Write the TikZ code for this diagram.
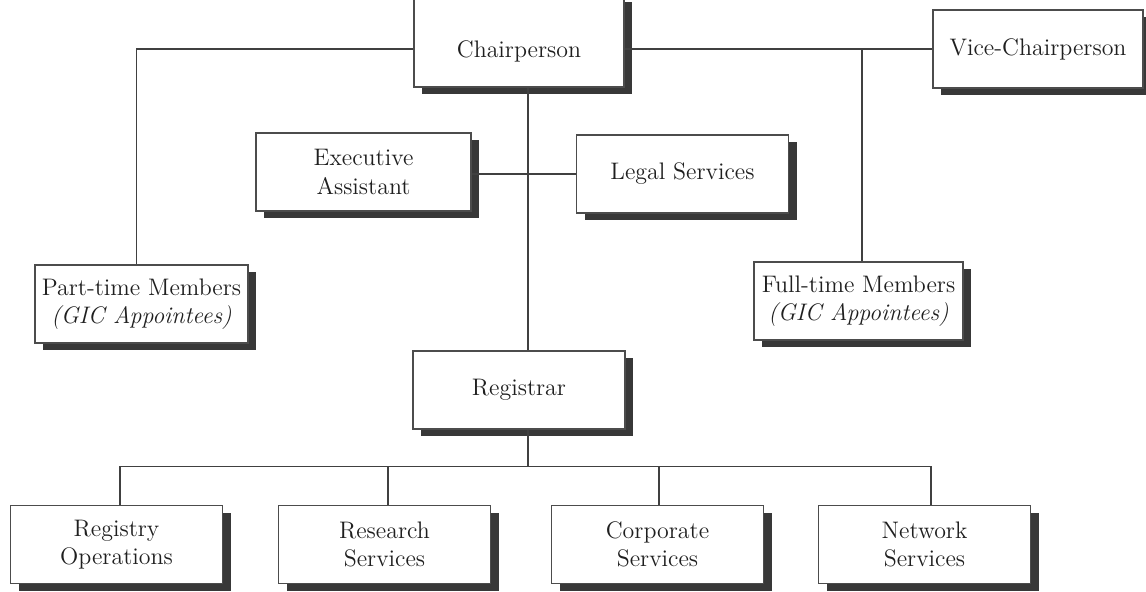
\documentclass[tikz,border=0pt]{standalone}
\usepackage{tikz}
\usetikzlibrary{shadows}
\tikzset{
  orgbox/.style ={rectangle, draw=black!70, line width=0.9pt, fill=white,
                  minimum width=4.24cm, minimum height=1.56cm, inner sep=2pt,
                  align=center, text=black!88,
                  font=\fontsize{13.6}{16}\selectfont,
                  drop shadow={shadow xshift=0.16cm, shadow yshift=-0.14cm,
                               fill=black!78, opacity=1}},
  orgline/.style={line width=0.8pt, draw=black!75}
}
\begin{document}
\begin{tikzpicture}
  \useasboundingbox (0,0) rectangle (22.92,-11.84);
  % ---------------- Top ----------------
  \node[orgbox, minimum width=4.2cm, minimum height=1.84cm,
        label={[yshift=-0.2cm, font=\fontsize{13.6}{16}\selectfont, text=black!88]center:Chairperson}]
                 (chair) at (10.38,-0.82)  {};
  \node[orgbox, minimum width=4.2cm] (vice)  at (20.76,-0.98) {Vice-Chairperson};
  \node[orgbox, minimum width=4.3cm] (exec)  at (7.27,-3.44)  {Executive\\Assistant};
  \node[orgbox]                      (legal) at (13.65,-3.48) {Legal Services};
  \node[orgbox, minimum width=4.26cm](part)  at (2.83,-6.08)
                                     {Part-time Members\\\textit{(GIC Appointees)}};
  \node[orgbox, minimum width=4.18cm](full)  at (17.17,-6.02)
                                     {Full-time Members\\\textit{(GIC Appointees)}};
  \node[orgbox]                      (reg)   at (10.38,-7.80) {Registrar};

  % ---------------- Registrar branches ----------------
  \node[orgbox] (ops)  at (2.33,-10.89)  {Registry\\Operations};
  \node[orgbox] (res)  at (7.69,-10.89)  {Research\\Services};
  \node[orgbox] (corp) at (13.15,-10.89) {Corporate\\Services};
  \node[orgbox] (net)  at (18.49,-10.89) {Network\\Services};

  % ---------------- Top edges ----------------
  \draw[orgline] ([xshift=0.18cm]chair.south) -- ([xshift=0.18cm]reg.north);
  \draw[orgline] (chair.east |- vice.west) -- (vice.west);
  \draw[orgline] ([xshift=0.07cm]full.north) -- ([xshift=0.07cm]full.north |- vice.west);
  \draw[orgline] (chair.west |- vice.west) -| ([xshift=-0.1cm]part.north);
  \draw[orgline] (exec.east |- legal.west) -- (legal.west);

  % ---------------- Registrar edges ----------------
  \draw[orgline] ([xshift=0.18cm]reg.south) -- ++(0,-0.74) coordinate (bus);
  \draw[orgline] ([xshift=0.07cm]ops.north) |- (bus) -| ([xshift=0.13cm]net.north);
  \draw[orgline] ([xshift=0.07cm]res.north) -- ([xshift=0.07cm]res.north |- bus);
  \draw[orgline] ([xshift=0.03cm]corp.north) -- ([xshift=0.03cm]corp.north |- bus);
\end{tikzpicture}
\end{document}
